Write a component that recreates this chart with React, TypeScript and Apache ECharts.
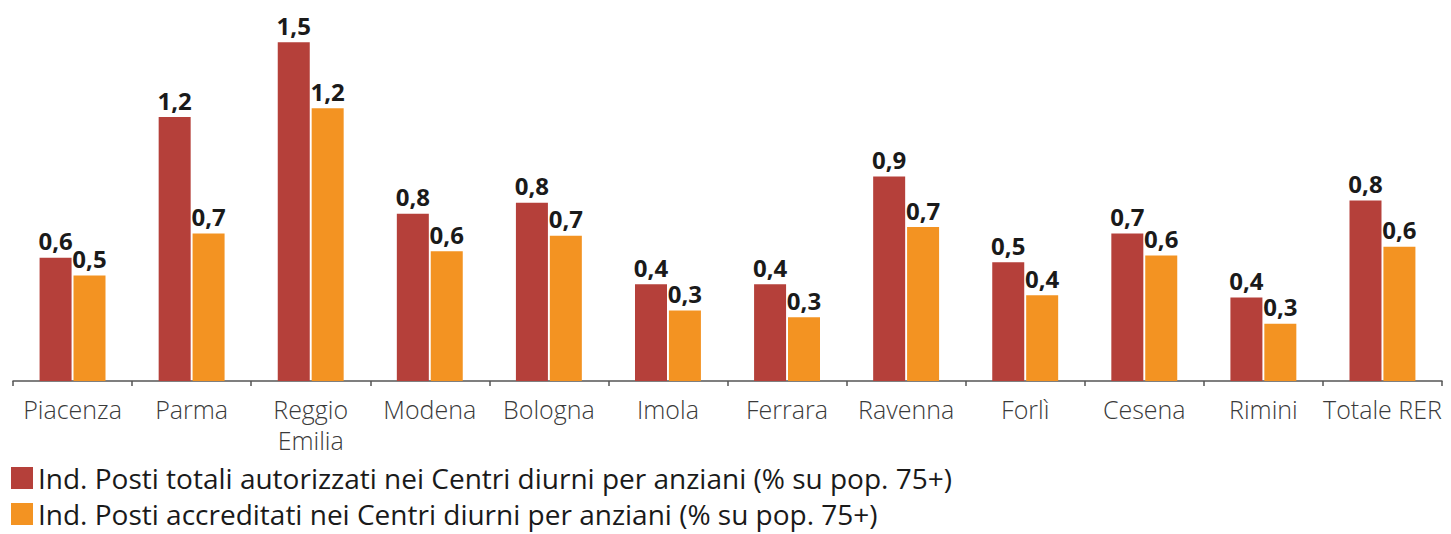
import React, { useEffect, useRef } from "react";
import * as echarts from "echarts";

const categories = [
  "Piacenza", "Parma", "Reggio\nEmilia", "Modena", "Bologna", "Imola",
  "Ferrara", "Ravenna", "Forlì", "Cesena", "Rimini", "Totale RER",
];
const autorizzati = [0.56, 1.2, 1.54, 0.76, 0.81, 0.44, 0.44, 0.93, 0.54, 0.67, 0.38, 0.82];
const accreditati = [0.48, 0.67, 1.24, 0.59, 0.66, 0.32, 0.29, 0.7, 0.39, 0.57, 0.26, 0.61];
const seriesNames = [
  "Ind. Posti totali autorizzati nei Centri diurni per anziani (% su pop. 75+)",
  "Ind. Posti accreditati nei Centri diurni per anziani (% su pop. 75+)",
];

const fmt = (p: any) => Number(p.value).toFixed(1).replace(".", ",");

export default function App() {
  const ref = useRef<HTMLDivElement>(null);
  useEffect(() => {
    document.body.style.margin = "0";
    const chart = echarts.init(ref.current!, null, { renderer: "svg" });
    const label = {
      show: true,
      position: "top" as const,
      distance: 5,
      formatter: fmt,
      color: "#1a1a1a",
      fontWeight: "bold" as const,
      fontSize: 24,
      fontFamily: "Open Sans",
    };
    const legendBase = {
      left: 11,
      padding: 0,
      itemWidth: 22,
      itemHeight: 22,
      icon: "rect",
      textStyle: { fontSize: 28, lineHeight: 28, fontWeight: 500, color: "#1a1a1a", fontFamily: "Open Sans", padding: [0, 0, 0, 0] },
    };
    chart.setOption({
      animation: false,
      backgroundColor: "#ffffff",
      legend: [
        { ...legendBase, top: 464, data: [seriesNames[0]] },
        { ...legendBase, top: 500, data: [seriesNames[1]] },
      ],
      grid: { left: 13, right: 9, top: 29, bottom: 153 },
      xAxis: {
        type: "category",
        data: categories,
        axisLine: { lineStyle: { color: "#555", width: 1.5 } },
        axisTick: { show: true, length: 5, lineStyle: { color: "#555", width: 1.5 } },
        axisLabel: {
          interval: 0,
          margin: 12,
          fontSize: 25,
          lineHeight: 31,
          color: "#3a3a3a",
          fontWeight: 300,
          fontFamily: "Open Sans",
        },
      },
      yAxis: {
        type: "value",
        min: 0,
        max: 1.6,
        show: false,
        splitLine: { show: false },
      },
      series: [
        {
          name: seriesNames[0],
          type: "bar",
          data: autorizzati,
          barWidth: 32,
          barGap: "6%",
          itemStyle: { color: "#B5403A" },
          label,
        },
        {
          name: seriesNames[1],
          type: "bar",
          data: accreditati,
          barWidth: 32,
          itemStyle: { color: "#F39322" },
          label,
        },
      ],
    });
    return () => chart.dispose();
  }, []);
  return <div ref={ref} style={{ width: 1451, height: 534 }} />;
}
